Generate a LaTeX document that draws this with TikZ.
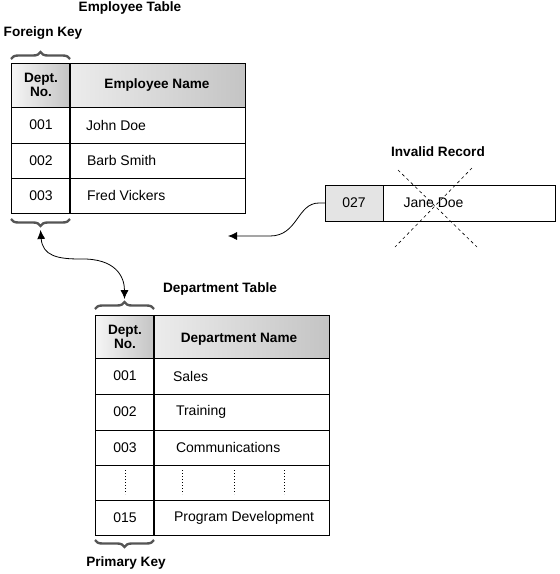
\documentclass[tikz,border=0pt]{standalone}
\usepackage{fontspec}
\setmainfont{Liberation Sans}
\usepackage{xcolor}
\usepackage{tikz}
\usetikzlibrary{calc,arrows.meta,decorations.pathreplacing}
\definecolor{ink}{HTML}{000000}
\definecolor{brc}{HTML}{555555}
\definecolor{cellg}{HTML}{E4E4E4}
\definecolor{hdl}{HTML}{F6F6F6}
\definecolor{hdr}{HTML}{C4C4C4}
\tikzset{
  grid/.style={draw=ink, line width=0.9pt},
  keyline/.style={draw=ink, line width=2.2pt},
  brc/.style={draw=brc, line width=2.4pt, decorate, decoration={brace, amplitude=7pt}},
  link/.style={draw=ink, line width=0.8pt},
  tip/.style={-{Latex[length=9pt,width=8pt]}},
  tips/.style={{Latex[length=9pt,width=8pt]}-{Latex[length=9pt,width=8pt]}},
  cross/.style={draw=ink, line width=0.6pt, dash pattern=on 3pt off 3pt},
  dots/.style={draw=ink, line width=0.8pt, dash pattern=on 1pt off 2pt},
  ttl/.style={font=\bfseries\fontsize{13.6}{15}\selectfont},
  txt/.style={font=\fontsize{14}{16}\selectfont},
  head/.style={font=\bfseries\fontsize{13.6}{14.5}\selectfont, align=center},
}

\begin{document}
\begin{tikzpicture}[x=1pt,y=-1pt]
  \useasboundingbox (0,0) rectangle (560,574);
  % employee table
  \shade[left color=hdl, right color=hdr] (11,63) rectangle (70,107);
  \shade[left color=hdl!80!hdr, right color=hdr] (70,63) rectangle (245,107);
  \draw[grid] (11,63) rectangle (245,213);
  \foreach \y in {107,143,178}
    \draw[grid] (11,\y) -- (245,\y);
  \draw[keyline] (70,63) -- (70,213);
  \node[ttl] (etitle) at (130,8) {Employee Table};
  \node[ttl] (fkey) at (43,33) {Foreign Key};
  \node[head] (eno) at (41,85) {Dept.\\No.};
  \node[head] (ename) at (157,85) {Employee Name};
  \foreach \n/\x/\y/\id/\nm in {1/82.5/125/001/John Doe,2/83.5/160.5/002/Barb Smith,3/83.5/195.5/003/Fred Vickers}{
    \node[txt] (eid\n) at (41,\y) {\id};
    \node[txt,anchor=west] (enm\n) at (\x,\y) {\nm};
  }
  \draw[brc] (11,59) -- (70,59);
  \draw[brc] (70,219) -- (11,219);
  \coordinate (fkt) at (40.5,230);

  % department table
  \shade[left color=hdl, right color=hdr] (95,315) rectangle (154,358);
  \shade[left color=hdl!80!hdr, right color=hdr] (154,315) rectangle (329,358);
  \draw[grid] (95,315) rectangle (329,535);
  \foreach \y in {358,394,430,465,500}
    \draw[grid] (95,\y) -- (329,\y);
  \draw[keyline] (154,315) -- (154,535);
  \node[ttl] (dtitle) at (220,289) {Department Table};
  \node[ttl] (pkey) at (126,563) {Primary Key};
  \node[head] (dno) at (125,337) {Dept.\\No.};
  \node[head] (dname) at (239,339) {Department Name};
  \foreach \n/\x/\y/\id/\nm in {1/169.5/376/001/Sales,2/172.5/412/002/Training,3/172.5/447.5/003/Communications,5/170.5/517.5/015/Program Development}{
    \node[txt] (did\n) at (125,\y) {\id};
    \node[txt,anchor=west] (dnm\n) at (\x,\y) {\nm};
  }
  \foreach \x in {125,182,234,284}
    \draw[dots] (\x,470) -- (\x,494);
  \draw[brc] (95,309) -- (154,309);
  \draw[brc] (154,540) -- (95,540);
  \coordinate (pkt) at (124.5,299);

  % link between the keys
  \coordinate (kmid) at (80,259);
  \draw[link,tips] (fkt) .. controls +(2,26) and +(-22,0) .. (kmid)
    .. controls +(36,-1) and +(0,-22) .. (pkt);

  % invalid record
  \fill[cellg] (325,185) rectangle (383,221);
  \draw[grid] (325,185) rectangle (555,221);
  \draw[grid] (383,185) -- (383,221);
  \node[ttl] (ititle) at (438,152) {Invalid Record};
  \node[txt] (iid) at (354,203) {027};
  \node[txt,anchor=west] (inm) at (400,203) {Jane Doe};
  \draw[cross] (398,170) -- (477,247);
  \draw[cross] (472,168) -- (395,247);
  \coordinate (iin) at (325,203);
  \coordinate (iend) at (228,236);
  \draw[link,tip] (iin) -- +(-6,0) .. controls +(-22,0) and +(28,0) .. (270,236) -- (iend);
\end{tikzpicture}
\end{document}
